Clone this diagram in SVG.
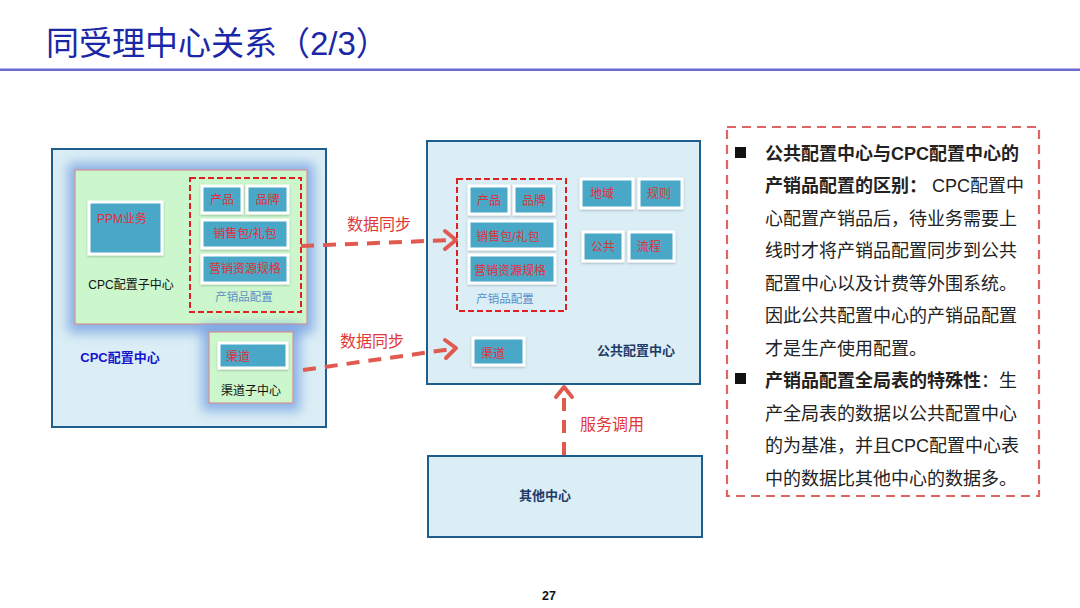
<svg xmlns="http://www.w3.org/2000/svg" width="1080" height="608" viewBox="0 0 1080 608">
<defs>
<style>
.cjk{font-family:"Liberation Sans","Noto Sans CJK SC",sans-serif}
.title{font-size:33px;fill:#1a28a8}
.outer{fill:#dbeef5;stroke:#1f5d8c;stroke-width:2}
.green{fill:#ccf7cc;stroke:#d99090;stroke-width:1.2}
.glow{fill:#6f9be0;opacity:0.75;filter:url(#blur)}
.tile{fill:#4aa8c8;stroke:#fff;stroke-width:3;filter:url(#shadow)}
.tt{font-size:12px;fill:#e0303a}
.reddash{fill:none;stroke:#e02020;stroke-width:2;stroke-dasharray:6 3}
.sub{font-size:11.5px;fill:#5b8fc8}
.lbl{font-size:12px;fill:#111}
.conn{fill:none;stroke:#e05a50;stroke-width:4;stroke-dasharray:13 9}
.head{fill:none;stroke:#e05a50;stroke-width:4;stroke-linecap:round;stroke-linejoin:round}
.clbl{font-size:16px;fill:#e03838}
.body{font-size:18px;fill:#222}
.bold{font-weight:bold}
</style>
<filter id="blur" x="-20%" y="-20%" width="140%" height="140%"><feGaussianBlur stdDeviation="6"/></filter>
<filter id="shadow" x="-20%" y="-20%" width="140%" height="150%"><feDropShadow dx="0" dy="1" stdDeviation="1" flood-color="#000" flood-opacity="0.25"/></filter>
</defs>
<rect width="1080" height="608" fill="#fff"/>
<text class="cjk title" x="46" y="55">同受理中心关系（2/3）</text>
<rect x="0" y="68.5" width="1080" height="2.5" fill="#6a6ad0"/>

<g id="cpc-center">
<rect class="outer" x="52" y="149" width="274" height="278"/>
<text class="cjk bold" x="120" y="362" font-size="13" fill="#1515d0" text-anchor="middle">CPC配置中心</text>
</g>
<g id="cpc-sub">
<rect class="glow" x="68" y="163" width="246" height="170"/>
<rect class="green" x="75" y="170" width="232" height="154"/>
<rect class="tile" x="89" y="202" width="73" height="52"/>
<text class="cjk tt" x="97" y="223">PPM业务</text>
<text class="cjk lbl" x="131" y="289" text-anchor="middle">CPC配置子中心</text>
</g>
<g id="cpc-product">
<rect class="reddash" x="190" y="178" width="111" height="134"/>
<rect class="tile" x="202" y="186" width="40" height="27"/>
<text class="cjk tt" x="222" y="204" text-anchor="middle">产品</text>
<rect class="tile" x="247" y="186" width="41" height="27"/>
<text class="cjk tt" x="267.5" y="204" text-anchor="middle">品牌</text>
<rect class="tile" x="202" y="220" width="86" height="28"/>
<text class="cjk tt" x="245" y="238" text-anchor="middle">销售包/礼包</text>
<rect class="tile" x="202" y="255" width="86" height="28"/>
<text class="cjk tt" x="245" y="273" text-anchor="middle">营销资源规格</text>
<text class="cjk sub" x="244" y="301" text-anchor="middle">产销品配置</text>
</g>
<g id="channel-sub">
<rect class="glow" x="202" y="325" width="98" height="86"/>
<rect class="green" x="209" y="332" width="84" height="71"/>
<rect class="tile" x="219" y="343" width="68" height="25"/>
<text class="cjk tt" x="226" y="361">渠道</text>
<text class="cjk lbl" x="251" y="395" text-anchor="middle">渠道子中心</text>
</g>

<g id="public-center">
<rect class="outer" x="427" y="141" width="273" height="243"/>
<text class="cjk bold" x="636" y="355" font-size="13" fill="#1f3a68" text-anchor="middle">公共配置中心</text>
<rect class="tile" x="581" y="179" width="52" height="29"/>
<text class="cjk tt" x="590" y="198">地域</text>
<rect class="tile" x="639" y="179" width="43" height="29"/>
<text class="cjk tt" x="647" y="198">规则</text>
<rect class="tile" x="583" y="232" width="40" height="29"/>
<text class="cjk tt" x="591" y="251">公共</text>
<rect class="tile" x="629" y="232" width="45" height="29"/>
<text class="cjk tt" x="637" y="251">流程</text>
<rect class="tile" x="473" y="338" width="51" height="27"/>
<text class="cjk tt" x="481" y="358">渠道</text>
</g>
<g id="public-product">
<rect class="reddash" x="457" y="179" width="109" height="132"/>
<rect class="tile" x="469" y="186" width="40" height="28"/>
<text class="cjk tt" x="489" y="205" text-anchor="middle">产品</text>
<rect class="tile" x="514" y="186" width="40" height="28"/>
<text class="cjk tt" x="534" y="205" text-anchor="middle">品牌</text>
<rect class="tile" x="469" y="221" width="86" height="28"/>
<text class="cjk tt" x="508" y="241" text-anchor="middle">销售包/礼包</text>
<rect class="tile" x="469" y="255" width="86" height="28"/>
<text class="cjk tt" x="510" y="275" text-anchor="middle">营销资源规格</text>
<text class="cjk sub" x="505" y="303" text-anchor="middle">产销品配置</text>
</g>

<g id="other-center">
<rect class="outer" x="428" y="456" width="274" height="81"/>
<text class="cjk bold" x="545" y="500" font-size="13" fill="#1f3a68" text-anchor="middle">其他中心</text>
</g>

<g id="connectors">
<path class="conn" d="M301 246 L452 240"/>
<path class="head" d="M445 231 L456 240 L445 249"/>
<text class="cjk clbl" x="379" y="230" text-anchor="middle">数据同步</text>
<path class="conn" d="M303 370 L452 349"/>
<path class="head" d="M445 340 L456 348 L446 358"/>
<text class="cjk clbl" x="372" y="347" text-anchor="middle">数据同步</text>
<path class="conn" d="M564 455 L564 392"/>
<path class="head" d="M556 397 L564 387 L572 397"/>
<text class="cjk clbl" x="612" y="430" text-anchor="middle">服务调用</text>
</g>

<g id="notes">
<rect x="727" y="127" width="312" height="369" fill="none" stroke="#e06464" stroke-width="2.2" stroke-dasharray="9 6"/>
<rect x="735" y="147" width="11" height="11" fill="#111"/>
<text class="cjk body bold" x="765" y="160">公共配置中心与CPC配置中心的</text>
<text class="cjk body" x="765" y="192"><tspan class="bold">产销品配置的区别：</tspan> CPC配置中</text>
<text class="cjk body" x="765" y="224.5">心配置产销品后，待业务需要上</text>
<text class="cjk body" x="765" y="257">线时才将产销品配置同步到公共</text>
<text class="cjk body" x="765" y="289.5">配置中心以及计费等外围系统。</text>
<text class="cjk body" x="765" y="322">因此公共配置中心的产销品配置</text>
<text class="cjk body" x="765" y="354.5">才是生产使用配置。</text>
<rect x="735" y="373" width="11" height="11" fill="#111"/>
<text class="cjk body" x="765" y="387"><tspan class="bold">产销品配置全局表的特殊性</tspan>：生</text>
<text class="cjk body" x="765" y="419.5">产全局表的数据以公共配置中心</text>
<text class="cjk body" x="765" y="452">的为基准，并且CPC配置中心表</text>
<text class="cjk body" x="765" y="484.5">中的数据比其他中心的数据多。</text>
</g>
<text class="cjk bold" x="549" y="600" font-size="12.5" fill="#111" text-anchor="middle">27</text>
</svg>
